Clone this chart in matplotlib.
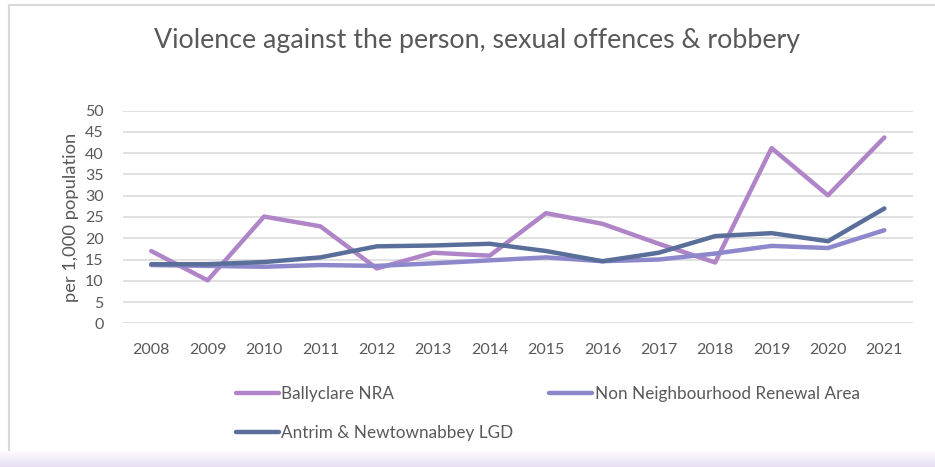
import matplotlib
matplotlib.use("Agg")
import matplotlib.pyplot as plt
from matplotlib.lines import Line2D
import numpy as np

years = ["2008", "2009", "2010", "2011", "2012", "2013", "2014",
         "2015", "2016", "2017", "2018", "2019", "2020", "2021"]
ballyclare = [17.0, 10.1, 25.1, 22.8, 12.9, 16.6, 15.9,
              25.9, 23.4, 18.7, 14.3, 41.2, 30.1, 43.7]
non_nra = [13.7, 13.5, 13.3, 13.7, 13.5, 14.1, 14.8,
           15.5, 14.6, 15.0, 16.4, 18.2, 17.7, 21.9]
antrim = [13.9, 13.9, 14.4, 15.5, 18.1, 18.3, 18.7,
          17.0, 14.6, 16.6, 20.5, 21.2, 19.3, 27.0]
series_names = ["Ballyclare NRA", "Non Neighbourhood Renewal Area",
                "Antrim & Newtownabbey LGD"]
yticks = [0, 5, 10, 15, 20, 25, 30, 35, 40, 45, 50]

plt.rcParams['font.family'] = ['Lato', 'DejaVu Sans']
grey_text = '#595959'

fig = plt.figure(figsize=(9.35, 4.67), dpi=100)
ax = fig.add_axes([0.1316, 0.3077, 0.976 - 0.1316, 0.763 - 0.3077])

x = np.arange(len(years))
l1, = ax.plot(x, ballyclare, color='#B085C8', lw=3.2, solid_capstyle='round')
l2, = ax.plot(x, non_nra, color='#8D87CB', lw=3.2, solid_capstyle='round')
l3, = ax.plot(x, antrim, color='#5A6E9A', lw=3.2, solid_capstyle='round')

ax.set_xlim(-0.5, len(years) - 0.5)
ax.set_ylim(0, 50)
ax.set_yticks(yticks)
ax.set_xticks(x)
ax.set_xticklabels(years)
ax.grid(axis='y', color='#D9D9D9', lw=1.1)
ax.set_axisbelow(True)
for s in ax.spines.values():
    s.set_visible(False)
ax.tick_params(length=0, labelsize=11.5, colors=grey_text)
ax.tick_params(axis='x', pad=14)
ax.tick_params(axis='y', pad=14)
ax.set_ylabel("per 1,000 population", fontsize=13.2, color=grey_text, labelpad=4)

fig.text(0.510, 0.913, "Violence against the person, sexual offences & robbery",
         ha='center', va='center', fontsize=19.3, color=grey_text)

# legend: two per row
leg = fig.legend([l1, l3, l2], [series_names[0], series_names[2], series_names[1]],
                 ncol=2, loc='upper left', bbox_to_anchor=(0.236, 0.207),
                 frameon=False, fontsize=12.3, handlelength=2.5, handletextpad=0.15,
                 columnspacing=2.1, labelspacing=1.35)
for t in leg.get_texts():
    t.set_color(grey_text)

# chart frame and bottom shading
fig.add_artist(Line2D([9 / 935, 1], [1 - 5 / 467, 1 - 5 / 467], color='#D9D9D9', lw=1.5))
fig.add_artist(Line2D([9 / 935, 9 / 935], [17 / 467, 1 - 5 / 467], color='#D9D9D9', lw=1.5))
gax = fig.add_axes([0, 0, 1, 18 / 467])
grad = np.linspace(0, 1, 50).reshape(-1, 1)
top = np.array([1.0, 1.0, 1.0])
bot = np.array([0.91, 0.87, 0.95])
img = top + (bot - top) * grad[..., None]
gax.imshow(img, aspect='auto', extent=[0, 1, 0, 1], origin='upper')
gax.axis('off')

fig.savefig("out.png", dpi=100)
